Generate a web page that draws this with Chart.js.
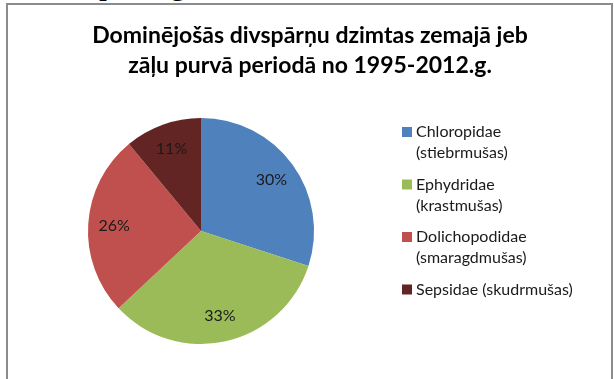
<!DOCTYPE html>
<html>
<head>
<meta charset="utf-8">
<script src="https://cdn.jsdelivr.net/npm/chart.js@4.4.1/dist/chart.umd.min.js"></script>
<style>
    body { margin: 0; background: #fff; overflow: hidden; }
    #wrap { position: relative; width: 614px; height: 379px; overflow: hidden; }
    #pie_chart { position: absolute; left: 0; top: 0; }
    #frame {
        position: absolute; left: 6px; top: 3px; width: 607px; height: 420px;
        border: 2px solid #8c8c8c; box-sizing: border-box; pointer-events: none;
    }
    #doc_text {
        position: absolute; left: 99px; top: -33px;
        font: 32px 'Liberation Serif'; line-height: 32px; color: #000;
    }
</style>
</head>
<body>
<div id="wrap">
    <div id="doc_text">paraugi</div>
    <canvas id="pie_chart" width="614" height="379"></canvas>
    <div id="frame"></div>
</div>
<script>
const TITLE_LINES = ['Dominējošās divspārņu dzimtas zemajā jeb', 'zāļu purvā periodā no 1995-2012.g.'];
const FAMILIES = [
    ['Chloropidae', '(stiebrmušas)'],
    ['Ephydridae', '(krastmušas)'],
    ['Dolichopodidae', '(smaragdmušas)'],
    ['Sepsidae (skudrmušas)']
];
const SHARES = [30, 33, 26, 11];
const SLICE_COLORS = ['#4f81bd', '#9bbb59', '#c0504d', '#632523'];

// heading, two centred bold lines
const heading_plugin = {
    id: 'heading',
    afterDraw: (chart) => {
        const ctx = chart.ctx;
        ctx.save();
        ctx.font = 'bold 23px Lato';
        ctx.fillStyle = '#000';
        ctx.textAlign = 'center';
        ctx.textBaseline = 'middle';
        TITLE_LINES.forEach((line, i) => {
            ctx.fillText(line, 310, 36 + i * 30);
        });
        ctx.restore();
    }
};

// legend on the right, labels may wrap onto two lines
const side_legend_plugin = {
    id: 'side_legend',
    afterDraw: (chart) => {
        const ctx = chart.ctx;
        const colors = chart.data.datasets[0].backgroundColor;
        let y = 132;
        ctx.save();
        ctx.font = '16px Lato';
        ctx.textAlign = 'left';
        ctx.textBaseline = 'middle';
        chart.data.labels.forEach((label, i) => {
            const lines = Array.isArray(label) ? label : [label];
            ctx.fillStyle = colors[i];
            ctx.fillRect(402, y - 5, 10, 10);
            ctx.fillStyle = '#1a1a1a';
            lines.forEach((line, j) => {
                ctx.fillText(line, 416, y + j * 21);
            });
            y += lines.length * 21 + 10.5;
        });
        ctx.restore();
    }
};

// percentage text inside each slice
const slice_labels_plugin = {
    id: 'slice_labels',
    afterDatasetsDraw: (chart) => {
        const ctx = chart.ctx;
        const meta = chart.getDatasetMeta(0);
        const values = chart.data.datasets[0].data;
        ctx.save();
        ctx.font = '16px Lato';
        ctx.fillStyle = '#1a1a1a';
        ctx.textAlign = 'center';
        ctx.textBaseline = 'middle';
        meta.data.forEach((arc, i) => {
            const p = arc.getProps(['x', 'y', 'startAngle', 'endAngle', 'outerRadius'], true);
            const mid = (p.startAngle + p.endAngle) / 2;
            const r = p.outerRadius * 0.77;
            ctx.fillText(values[i] + '%', p.x + Math.cos(mid) * r, p.y + Math.sin(mid) * r);
        });
        ctx.restore();
    }
};

const config = {
    type: 'pie',
    data: {
        labels: FAMILIES,
        datasets: [{
            data: SHARES,
            backgroundColor: SLICE_COLORS,
            borderWidth: 0
        }]
    },
    options: {
        responsive: false,
        animation: false,
        layout: {
            padding: { top: 118, bottom: 35, left: 0, right: 212 }
        },
        plugins: {
            legend: { display: false },
            title: { display: false },
            tooltip: { enabled: false }
        }
    },
    plugins: [slice_labels_plugin, heading_plugin, side_legend_plugin]
};

new Chart(document.getElementById('pie_chart').getContext('2d'), config);
</script>
</body>
</html>
